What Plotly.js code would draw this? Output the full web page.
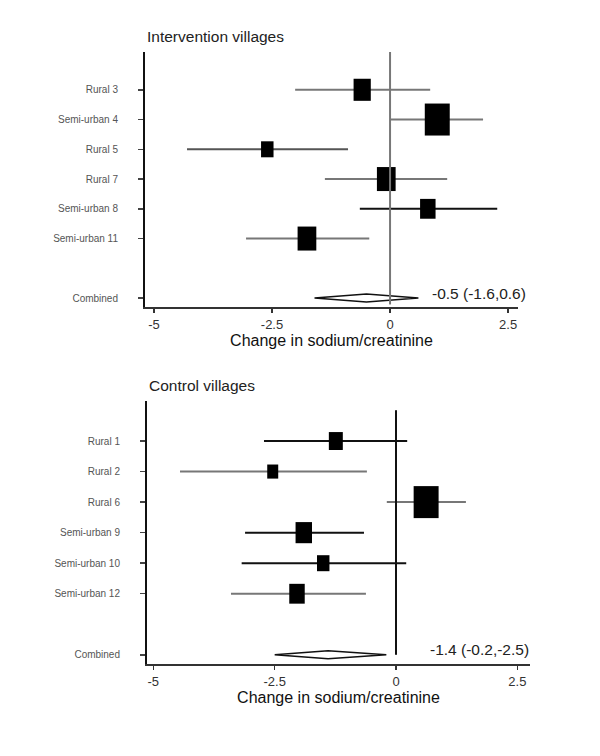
<!DOCTYPE html>
<html>
<head>
<meta charset="utf-8">
<script src="https://cdn.plot.ly/plotly-3.0.1.min.js"></script>
<style>
  body { margin: 0; background: #fff; }
  #forest { width: 600px; height: 756px; }
</style>
</head>
<body>
<div id="forest"></div>
<script>
// intervention villages
const interSites = ["Rural 3", "Semi-urban 4", "Rural 5", "Rural 7", "Semi-urban 8", "Semi-urban 11"];
const interEst = [-0.59, 1.0, -2.6, -0.08, 0.8, -1.76];
const interLow = [-2.01, 0.0, -4.3, -1.38, -0.64, -3.05];
const interHigh = [0.85, 1.97, -0.89, 1.21, 2.27, -0.44];
const interWeight = [0.69, 1.0, 0.5, 0.75, 0.62, 0.75];
const interCombined = [-0.5, -1.6, 0.6]; // est, low, high
const interLabel = "-0.5 (-1.6,0.6)";

// control villages
const controlSites = ["Rural 1", "Rural 2", "Rural 6", "Semi-urban 9", "Semi-urban 10", "Semi-urban 12"];
const controlEst = [-1.24, -2.54, 0.62, -1.9, -1.5, -2.04];
const controlLow = [-2.72, -4.45, -0.19, -3.11, -3.18, -3.4];
const controlHigh = [0.23, -0.6, 1.44, -0.66, 0.21, -0.62];
const controlWeight = [0.56, 0.44, 1.0, 0.66, 0.5, 0.62];
const controlCombined = [-1.4, -2.5, -0.2];
const controlLabel = "-1.4 (-0.2,-2.5)";

const xTicks = [-5, -2.5, 0, 2.5];
const xTickText = ["-5", "-2.5", "0", "2.5"];
const rows = [1, 2, 3, 4, 5, 6];
const combinedRow = 8;

const W = 600, H = 756;
const FONT = "Liberation Sans, Arial, sans-serif";

const panels = [
  {
    sites: interSites, est: interEst, low: interLow, high: interHigh, weight: interWeight,
    comb: interCombined, label: interLabel, title: "Intervention villages",
    xa: "x", ya: "y",
    xdom: [145 / W, 518 / W], ydom: [1 - 307 / H, 1 - 52 / H],
    xrange: [-5.19, 2.71], yrange: [8.3, -0.27],
    colors: ["#777", "#777", "#555", "#777", "#111", "#777"],
    refColor: "#777", labelX: 0.85, titleY: 1 - 36 / H
  },
  {
    sites: controlSites, est: controlEst, low: controlLow, high: controlHigh, weight: controlWeight,
    comb: controlCombined, label: controlLabel, title: "Control villages",
    xa: "x2", ya: "y2",
    xdom: [147 / W, 530 / W], ydom: [1 - 664 / H, 1 - 401 / H],
    xrange: [-5.13, 2.76], yrange: [8.3, -0.31],
    colors: ["#111", "#777", "#777", "#111", "#111", "#777"],
    refColor: "#111", labelX: 0.66, titleY: 1 - 385 / H
  }
];

let traces = [];
let shapes = [];
let annotations = [];
let layout = {
  width: W, height: H,
  margin: { l: 0, r: 0, t: 0, b: 0 },
  paper_bgcolor: "#fff",
  plot_bgcolor: "#fff",
  showlegend: false,
  font: { family: FONT, color: "#222" }
};

panels.forEach((p, k) => {
  const sfx = k === 0 ? "" : "2";
  const pxX = (p.xdom[1] - p.xdom[0]) * W / (p.xrange[1] - p.xrange[0]);
  const pxY = (p.ydom[1] - p.ydom[0]) * H / Math.abs(p.yrange[0] - p.yrange[1]);
  const maxBox = 32;

  // confidence interval lines
  for (let i = 0; i < p.sites.length; i++) {
    traces.push({
      type: "scatter", mode: "lines",
      x: [p.low[i], p.high[i]], y: [rows[i], rows[i]],
      xaxis: p.xa, yaxis: p.ya,
      line: { color: p.colors[i], width: 2 },
      hoverinfo: "skip"
    });
    // weighted box
    const hh = p.weight[i] * maxBox / 2 / pxY;
    const hw = p.weight[i] * maxBox * 0.78 / 2 / pxX;
    shapes.push({
      type: "rect", xref: p.xa, yref: p.ya,
      x0: p.est[i] - hw, x1: p.est[i] + hw,
      y0: rows[i] - hh, y1: rows[i] + hh,
      fillcolor: "#000", line: { width: 0 }
    });
  }

  // reference line at zero
  shapes.push({
    type: "line", xref: p.xa, yref: p.ya + " domain",
    x0: 0, x1: 0, y0: k === 0 ? 0.01 : 0.035, y1: k === 0 ? 1 : 0.965,
    line: { color: p.refColor, width: 2 }
  });

  // combined diamond
  const dh = 4 / pxY;
  traces.push({
    type: "scatter", mode: "lines",
    x: [p.comb[1], p.comb[0], p.comb[2], p.comb[0], p.comb[1]],
    y: [combinedRow, combinedRow - dh, combinedRow, combinedRow + dh, combinedRow],
    xaxis: p.xa, yaxis: p.ya,
    fill: "toself", fillcolor: "#fff",
    line: { color: "#111", width: 1.5 },
    hoverinfo: "skip"
  });

  annotations.push({
    xref: p.xa, yref: p.ya, x: p.labelX, y: combinedRow,
    xanchor: "left", yanchor: "middle", yshift: 5,
    text: p.label, showarrow: false,
    font: { family: FONT, size: 15.5, color: "#222" }
  });
  annotations.push({
    xref: "paper", yref: "paper", x: p.xdom[0], y: p.titleY,
    xanchor: "left", yanchor: "middle",
    text: p.title, showarrow: false,
    font: { family: FONT, size: 15.5, color: "#222" }
  });

  layout["xaxis" + sfx] = {
    domain: p.xdom, anchor: p.ya,
    range: p.xrange, fixedrange: true,
    tickvals: xTicks, ticktext: xTickText,
    ticks: "outside", ticklen: 4, tickwidth: 1.5, tickcolor: "#333",
    showline: true, linecolor: "#333", linewidth: 2,
    showgrid: false, zeroline: false,
    tickfont: { family: FONT, size: 13, color: "#333" },
    title: { text: "Change in sodium/creatinine", standoff: 0, font: { family: FONT, size: 16, color: "#111" } }
  };
  layout["yaxis" + sfx] = {
    domain: p.ydom, anchor: p.xa,
    range: p.yrange, fixedrange: true,
    tickvals: rows.concat([combinedRow]),
    ticktext: p.sites.concat(["Combined"]),
    ticks: "outside", ticklen: 5, tickwidth: 1.5, tickcolor: "#444",
    ticklabelstandoff: 18,
    showline: true, linecolor: "#111", linewidth: 2,
    showgrid: false, zeroline: false,
    tickfont: { family: FONT, size: 10, color: "#555" }
  };
});

layout.shapes = shapes;
layout.annotations = annotations;

Plotly.newPlot("forest", traces, layout, { displayModeBar: false, staticPlot: true });
</script>
</body>
</html>
